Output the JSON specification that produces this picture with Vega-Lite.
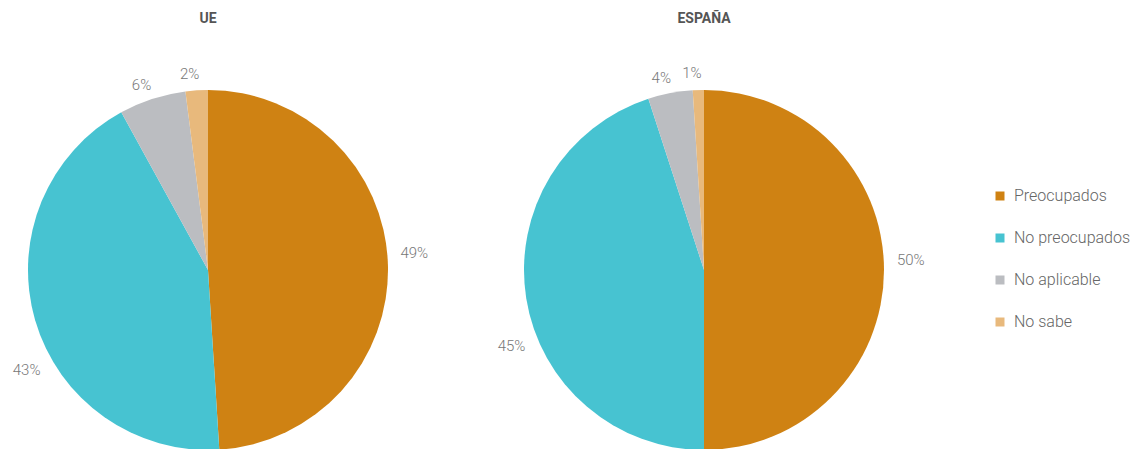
{
  "$schema": "https://vega.github.io/schema/vega-lite/v6.json",
  "padding": {"left": 12, "top": 12, "right": 0, "bottom": 0},
  "background": "white",
  "config": {"view": {"stroke": null}, "font": "Roboto"},
  "data": {"values": [
    {"region": "UE", "category": "Preocupados", "value": 49, "order": 1, "label": "49%"},
    {"region": "UE", "category": "No preocupados", "value": 43, "order": 2, "label": "43%"},
    {"region": "UE", "category": "No aplicable", "value": 6, "order": 3, "label": "6%"},
    {"region": "UE", "category": "No sabe", "value": 2, "order": 4, "label": "2%"},
    {"region": "ESPAÑA", "category": "Preocupados", "value": 50, "order": 1, "label": "50%"},
    {"region": "ESPAÑA", "category": "No preocupados", "value": 45, "order": 2, "label": "45%"},
    {"region": "ESPAÑA", "category": "No aplicable", "value": 4, "order": 3, "label": "4%"},
    {"region": "ESPAÑA", "category": "No sabe", "value": 1, "order": 4, "label": "1%"}
  ]},
  "bounds": "flush",
  "facet": {
    "column": {
      "field": "region", "type": "nominal", "sort": ["UE", "ESPAÑA"],
      "header": {"title": null, "labelFontSize": 14, "labelFontWeight": "bold", "labelColor": "#555555", "labelPadding": 64, "labelFont": "Roboto"}
    }
  },
  "spacing": 136,
  "spec": {
    "width": 360,
    "height": 360,
    "encoding": {
      "theta": {"field": "value", "type": "quantitative", "stack": true},
      "order": {"field": "order", "type": "quantitative"}
    },
    "layer": [
      {
        "mark": {"type": "arc", "outerRadius": 180},
        "encoding": {
          "color": {
            "field": "category", "type": "nominal",
            "scale": {"domain": ["Preocupados", "No preocupados", "No aplicable", "No sabe"], "range": ["#CF8213", "#47C3D1", "#BBBDC1", "#E8B97C"]},
            "legend": {"title": null, "orient": "none", "legendX": 964, "legendY": 98, "symbolType": "square", "symbolSize": 81, "symbolStrokeWidth": 0, "labelFontSize": 16, "labelColor": "#666666", "labelFont": "Roboto", "labelFontWeight": 300, "labelOffset": 6, "rowPadding": 26}
          }
        }
      },
      {
        "mark": {"type": "text", "radius": 207, "thetaOffset": -0.05, "fontSize": 15, "fontWeight": 300, "color": "#777777"},
        "encoding": {"text": {"condition": {"test": "datum.category == 'Preocupados'", "field": "label"}, "value": ""}}
      },
      {
        "mark": {"type": "text", "radius": 207, "thetaOffset": -0.22, "fontSize": 15, "fontWeight": 300, "color": "#777777"},
        "encoding": {"text": {"condition": {"test": "datum.category == 'No preocupados'", "field": "label"}, "value": ""}}
      },
      {
        "mark": {"type": "text", "radius": 197, "thetaOffset": -0.03, "fontSize": 15, "fontWeight": 300, "color": "#777777"},
        "encoding": {"text": {"condition": {"test": "datum.category == 'No aplicable' || datum.category == 'No sabe'", "field": "label"}, "value": ""}}
      }
    ]
  },
  "resolve": {"scale": {"theta": "independent"}}
}
